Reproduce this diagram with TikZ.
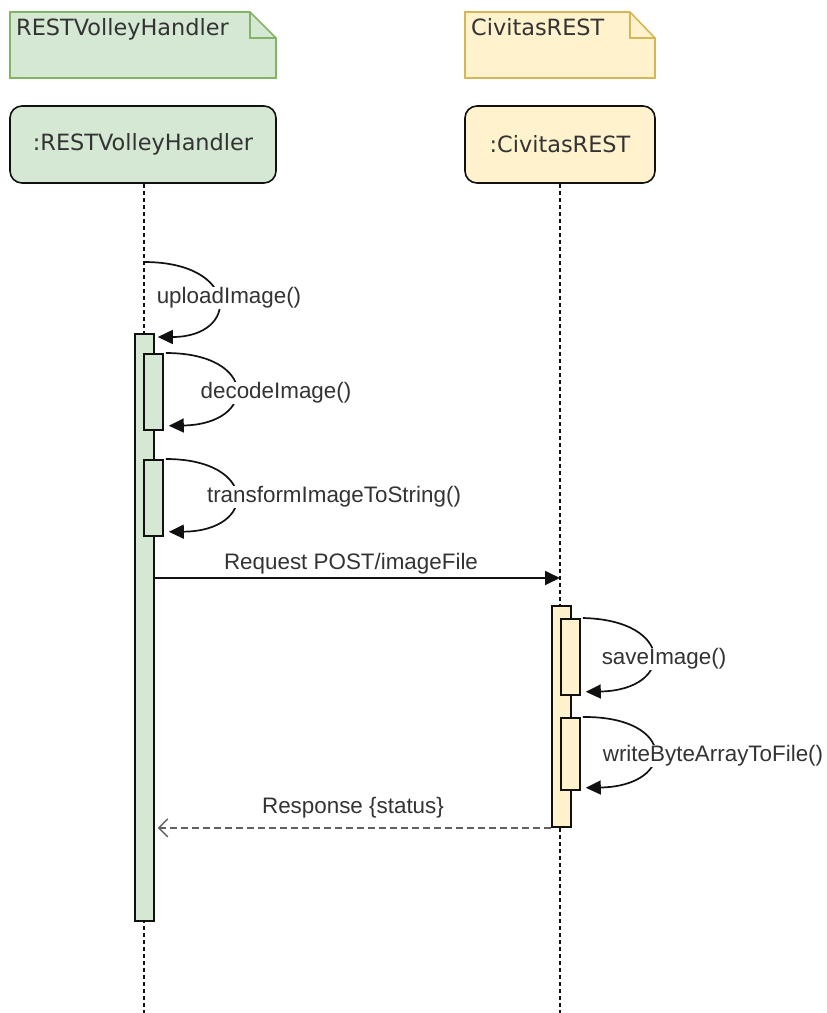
\documentclass[tikz,border=0pt]{standalone}
\usepackage{fontspec}
\setmainfont{Liberation Sans}
\newfontfamily\notefont{DejaVu Sans}
\usetikzlibrary{arrows.meta,calc}
\definecolor{gfill}{HTML}{D5E8D4}
\definecolor{gline}{HTML}{82B366}
\definecolor{yfill}{HTML}{FFF2CC}
\definecolor{yline}{HTML}{D6B656}
\definecolor{ink}{HTML}{333333}
\definecolor{edge}{HTML}{111111}
\tikzset{
  notetext/.style={font=\notefont\fontsize{22.4}{26}\selectfont, text=ink, inner sep=0pt, anchor=base west},
  headbox/.style={draw=edge, line width=1.6pt, rounded corners=12pt, font=\notefont\fontsize{22.4}{26}\selectfont, text=ink},
  lifeline/.style={draw=edge, line width=1.5pt, dash pattern=on 4pt off 3pt},
  actbox/.style={draw=edge, line width=1.8pt, inner sep=0pt, minimum width=19pt, anchor=north west},
  selfcall/.style={draw=edge, line width=1.7pt, -{Triangle[length=15pt,width=14pt]}},
  msg/.style={draw=edge, line width=1.8pt, -{Triangle[length=15pt,width=14pt]}},
  reply/.style={draw=black!62, line width=1.8pt, dash pattern=on 7pt off 4pt, -{Straight Barb[length=9pt,width=18pt,line width=1.4pt]}},
  lbl/.style={font=\fontsize{22.4}{26}\selectfont, text=ink, inner sep=1pt},
  lblbg/.style={lbl, fill=white}
}
\begin{document}
\begin{tikzpicture}[x=1pt,y=-1pt]
\useasboundingbox (0,0) rectangle (827,1013);

% class notes
\draw[fill=gfill, draw=gline, line width=1.6pt, line join=miter]
  (10,12) -- (250,12) -- (276,38) -- (276,78) -- (10,78) -- cycle;
\draw[draw=gline, line width=1.6pt] (250,12) -- (250,38) -- (276,38);
\node[notetext] (n1) at (16,35) {RESTVolleyHandler};

\draw[fill=yfill, draw=yline, line width=1.6pt, line join=miter]
  (465,12) -- (630,12) -- (655,38) -- (655,78) -- (465,78) -- cycle;
\draw[draw=yline, line width=1.6pt] (630,12) -- (630,38) -- (655,38);
\node[notetext] (n2) at (471,35) {CivitasREST};

% lifeline heads
\node[headbox, fill=gfill, minimum width=266pt, minimum height=77pt] (h1) at (143,144.5) {:RESTVolleyHandler};
\node[headbox, fill=yfill, minimum width=190pt, minimum height=77pt] (h2) at (560,144.5) {:CivitasREST};

% lifelines
\coordinate (bot) at (0,1013);
\draw[lifeline] ([xshift=1pt]h1.south) -- ([xshift=1pt]h1.south |- bot);
\draw[lifeline] (h2.south) -- (h2.south |- bot);

% activations
\node[actbox, fill=gfill, minimum height=587pt] (a1) at (134,333) {};
\node[actbox, fill=gfill, minimum height=76pt] (d1) at (143,353) {};
\node[actbox, fill=gfill, minimum height=76pt] (t1) at (143,459) {};
\node[actbox, fill=yfill, minimum height=221pt] (b1) at (551,605) {};
\node[actbox, fill=yfill, minimum height=76pt] (s1) at (560,618) {};
\node[actbox, fill=yfill, minimum height=72pt] (w1) at (560,717) {};

% self calls
\coordinate (u0) at (144,262);
\coordinate (u1) at ([xshift=3pt,yshift=-4pt]a1.north east);
\draw[selfcall] (u0) .. controls (240,262) and (240,337) .. (u1);
\draw[selfcall] ([xshift=2pt]d1.north east) .. controls (258,353) and (258,424) .. ([xshift=5pt,yshift=5pt]d1.south east);
\draw[selfcall] ([xshift=2pt]t1.north east) .. controls (258,459) and (258,531) .. ([xshift=5pt,yshift=5pt]t1.south east);
\draw[selfcall] ([xshift=2pt]s1.north east) .. controls (675,620) and (675,690) .. ([xshift=5pt,yshift=4pt]s1.south east);
\draw[selfcall] ([xshift=2pt]w1.north east) .. controls (677,716) and (677,786) .. ([xshift=5pt,yshift=3pt]w1.south east);

% messages between lifelines
\coordinate (rq) at (0,578);
\draw[msg] (a1.east |- rq) -- (h2.south |- rq);
\draw[reply] (b1.south west) -- ([xshift=3pt]a1.east |- b1.south);

% labels
\node[lblbg] (lu) at (229,298) {uploadImage()};
\node[lblbg] (ld) at (276,393) {decodeImage()};
\node[lblbg] (lt) at (334,497) {transformImageToString()};
\node[lblbg] (ls) at (664,659) {saveImage()};
\node[lblbg] (lw) at (713,756) {writeByteArrayToFile()};
\node[lbl] (lq) at (351,564) {Request POST/imageFile};
\node[lbl] (lr) at (353,808) {Response \{status\}};
\end{tikzpicture}
\end{document}
